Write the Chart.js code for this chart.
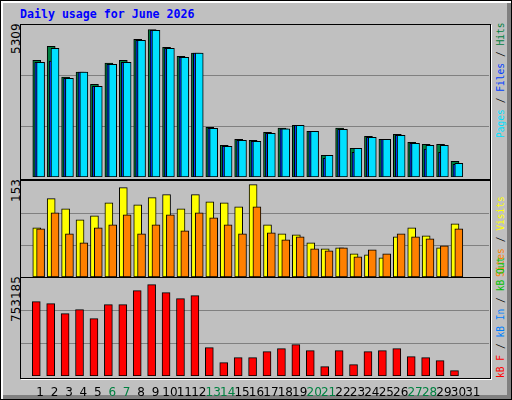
<!DOCTYPE html>
<html><head><meta charset="utf-8">
<script src="https://cdn.jsdelivr.net/npm/chart.js@4"></script>
<style>
html,body{margin:0;padding:0;background:#c0c0c0;}
#frame{position:absolute;left:0;top:0;width:510px;height:398px;border:1px solid #000;background:#c0c0c0;box-shadow:inset 2px 2px 0 #fff, inset -4px -4px 0 #808080;}
.panel{position:absolute;border:1px solid #000;box-shadow:1px 1px 0 #fff;background:#c0c0c0;}
canvas{position:absolute;}
.t{position:absolute;white-space:nowrap;}
.rot{position:absolute;white-space:nowrap;transform-origin:0 0;transform:rotate(-90deg);}
</style></head><body>
<div id="frame"></div>
<div class="t" style="left:20px;top:7px;font:bold 11.6px 'DejaVu Sans Mono';color:#0000ff">Daily usage for June 2026</div>
<div class="panel" style="left:20px;top:24px;width:469px;height:154px"></div>
<div class="panel" style="left:20px;top:180px;width:469px;height:96px"></div>
<div class="panel" style="left:20px;top:277px;width:469px;height:100px"></div>
<div class="rot" style="left:9px;top:54px;font:12px 'DejaVu Sans'">5309</div>
<div class="rot" style="left:9px;top:202px;font:12px 'DejaVu Sans'">153</div>
<div class="rot" style="left:9px;top:322px;font:12px 'DejaVu Sans'">753185</div>
<div class="rot" style="left:495px;top:138px;font:9.6px 'DejaVu Sans Mono'"><span style="color:#00e0ff">Pages</span> / <span style="color:#0040ff">Files</span> / <span style="color:#008040">Hits</span></div>
<div class="rot" style="left:495px;top:277px;font:9.6px 'DejaVu Sans Mono'"><span style="color:#ff8000">Sites</span> / <span style="color:#ffff00">Visits</span></div>
<div class="rot" style="left:495px;top:378px;font:9.6px 'DejaVu Sans Mono'"><span style="color:#ff0000">kB F</span> / <span style="color:#0080ff">kB In</span> / <span style="color:#00c000">kB Out</span></div>
<canvas id="c1" style="left:21px;top:25px;width:468px;height:152px" width="468" height="152"></canvas>
<canvas id="c2" style="left:21px;top:181px;width:468px;height:96px" width="468" height="96"></canvas>
<canvas id="c3" style="left:21px;top:278px;width:468px;height:119px" width="468" height="119"></canvas>
<script>
const days = Array.from({length:30},(_,i)=>i+1);
const dayLabels = Array.from({length:31},(_,i)=>String(i+1));
const weekendDays = [6,7,13,14,20,21,27,28];
const hits  = [4200,4704,3599,3779,3336,4103,4200,4956,5309,4668,4344,4463,1789,1141,1357,1321,1609,1764,1861,1645,781,1764,1033,1465,1357,1537,1249,1177,1177,565];
const files = [4128,4175,3553,3779,3265,4056,4128,4920,5280,4632,4308,4463,1753,1105,1321,1285,1573,1738,1861,1645,673,1717,889,1429,1357,1501,1213,1008,889,457];
const pages = [4128,4632,3553,3779,3265,4056,4128,4920,5280,4632,4308,4463,1753,1105,1321,1285,1573,1738,1861,1645,781,1717,1033,1429,1357,1501,1213,1141,1141,493];
const visits = [81.5,129.7,113,94.8,101.4,123,148,119.7,131.4,136.4,113,136.4,124.7,123,116.4,153,86.5,71.5,69.8,56.5,46.6,48.2,38.2,36.6,31.6,66.5,81.5,68.2,48.2,88.1];
const sites  = [79.8,106.4,71.5,56.5,81.5,86.5,103.1,71.5,86.5,103.1,76.5,106.4,98.1,86.5,71.5,116.4,73.2,61.5,66.5,46.6,43.2,48.2,33.3,44.9,38.2,71.5,66.5,63.2,51.5,79.8];
const kbytes = [613000,596500,514000,547000,472800,588300,588300,703700,753185,687200,637700,662500,233700,110000,151200,151200,200700,225400,258400,208900,77000,208900,93500,200700,208900,225400,159400,151200,126400,44000];

const XMIN = 0.195, XMAX = 31.6;
function ds(vals, off, color, w){
  return {data: vals.map((v,i)=>({x:days[i]+off,y:v})), backgroundColor:color, borderColor:'#000',
    borderWidth:1, barThickness:w, grouped:false, borderSkipped:false};
}
function make(id, datasets, max, withX){
  const xs = {type:'linear', min:XMIN, max:XMAX, display:withX, grid:{display:false}, border:{display:false},
          afterBuildTicks:s=>{s.ticks=dayLabels.map(d=>({value:+d}));},
          ticks:{autoSkip:false, maxRotation:0, padding:2, font:{family:'DejaVu Sans', size:12},
            callback:v=>String(v),
            color:c=>weekendDays.includes(c.tick.value)?'#008040':'#000'}};
  if (withX) xs.afterFit = s=>{s.height=21;};
  new Chart(document.getElementById(id), {
    type:'bar',
    data:{datasets},
    options:{responsive:false, animation:false, devicePixelRatio:1,
      layout:{padding:0},
      plugins:{legend:{display:false}, tooltip:{enabled:false}},
      scales:{
        x:xs,
        y:{min:0, max:max, afterBuildTicks:s=>{s.ticks=[{value:max/3},{value:2*max/3}];},
          ticks:{display:false}, border:{display:false},
          grid:{color:'#808080', lineWidth:1, drawTicks:false},
          afterFit:s=>{s.width=0;}}
      }}
  });
}
make('c1',[ds(pages,0.03,'#00e0ff',8), ds(files,-0.1,'#0040ff',8), ds(hits,-0.235,'#008040',8)], 5471, false);
make('c2',[ds(sites,0.03,'#ff8000',8), ds(visits,-0.235,'#ffff00',8)], 159, false);
make('c3',[ds(kbytes,-0.27,'#ff0000',8)], 807600, true);
</script></body></html>
